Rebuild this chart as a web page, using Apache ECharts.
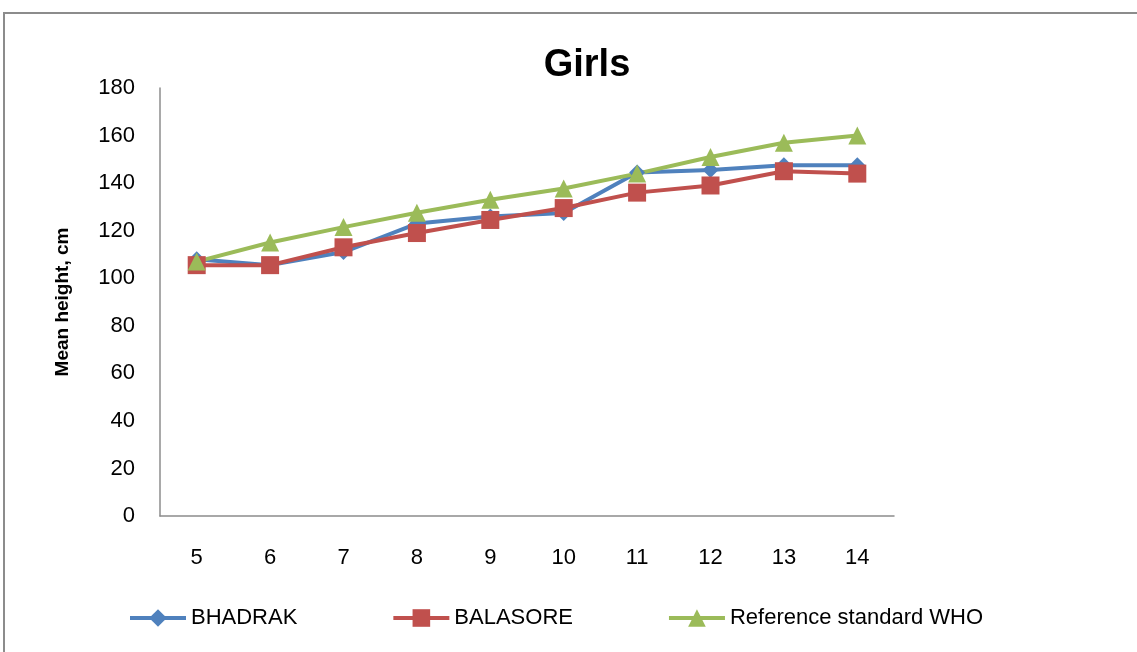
<!DOCTYPE html>
<html>
<head>
<meta charset="utf-8">
<script src="https://cdn.jsdelivr.net/npm/echarts@6/dist/echarts.min.js"></script>
<style>
  html, body { margin: 0; padding: 0; background: #fff; }
  #chart { width: 1137px; height: 652px; }
</style>
</head>
<body>
<div id="chart"></div>
<script>
// ages (years)
const ages = ['5', '6', '7', '8', '9', '10', '11', '12', '13', '14'];
// mean height, cm
const bhadrak = [108, 105.5, 111, 123, 126, 127.4, 144.5, 145.5, 147.5, 147.5];
const balasore = [105.5, 105.5, 113, 119, 124.5, 129.5, 136, 139, 145, 144];
const whoRef = [107, 115, 121.5, 127.5, 133, 137.7, 144, 151, 157, 160];

const FONT = "'Liberation Sans', Arial, sans-serif";

const chart = echarts.init(document.getElementById('chart'));
chart.setOption({
  animation: false,
  textStyle: { fontFamily: FONT },
  graphic: [{
    type: 'rect',
    shape: { x: 4, y: 13, width: 1140, height: 650 },
    style: { fill: 'none', stroke: '#8c8c8c', lineWidth: 2 }
  }],
  title: {
    text: 'Girls',
    left: 582,
    textAlign: 'center',
    top: 42,
    textStyle: { fontSize: 38, fontWeight: 'bold', color: '#000', fontFamily: FONT }
  },
  legend: {
    bottom: 18,
    left: 123,
    itemWidth: 56,
    itemHeight: 22,
    itemGap: 94,
    lineStyle: { width: 4 },
    textStyle: { fontSize: 22, color: '#000', fontFamily: FONT },
    data: ['BHADRAK', 'BALASORE', 'Reference standard WHO']
  },
  grid: { left: 160, right: 243, top: 88, bottom: 136 },
  xAxis: {
    type: 'category',
    data: ages,
    boundaryGap: true,
    axisLine: { lineStyle: { color: '#8c8c8c', width: 1.5 } },
    axisTick: { show: false },
    axisLabel: { color: '#000', fontSize: 22, margin: 31 }
  },
  yAxis: {
    type: 'value',
    min: 0,
    max: 180,
    interval: 20,
    name: 'Mean height, cm',
    nameLocation: 'middle',
    nameGap: 88,
    nameTextStyle: { fontSize: 19, fontWeight: 'bold', color: '#000' },
    axisLine: { show: true, lineStyle: { color: '#8c8c8c', width: 1.5 } },
    axisTick: { show: false },
    splitLine: { show: false },
    axisLabel: { color: '#000', fontSize: 22, margin: 25 }
  },
  series: [
    {
      name: 'BHADRAK', type: 'line', data: bhadrak,
      symbol: 'diamond', symbolSize: 16,
      lineStyle: { color: '#4F81BD', width: 4 },
      itemStyle: { color: '#4F81BD' }
    },
    {
      name: 'BALASORE', type: 'line', data: balasore,
      symbol: 'rect', symbolSize: 18,
      lineStyle: { color: '#C0504D', width: 4 },
      itemStyle: { color: '#C0504D' }
    },
    {
      name: 'Reference standard WHO', type: 'line', data: whoRef,
      symbol: 'triangle', symbolSize: 18,
      lineStyle: { color: '#9BBB59', width: 4 },
      itemStyle: { color: '#9BBB59' }
    }
  ]
});
</script>
</body>
</html>
